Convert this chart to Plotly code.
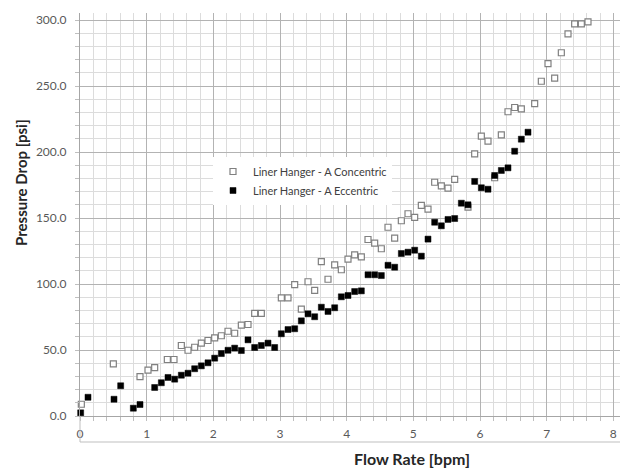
import plotly.graph_objects as go

# ---- data ----
conc_x = [0.02, 0.50, 0.90, 1.02, 1.12, 1.31, 1.41, 1.52, 1.62, 1.72, 1.82, 1.92, 2.02, 2.12,
          2.22, 2.32, 2.42, 2.52, 2.62, 2.72, 3.02, 3.12, 3.22, 3.32, 3.42, 3.52, 3.62, 3.72,
          3.82, 3.92, 4.02, 4.12, 4.22, 4.32, 4.42, 4.52, 4.62, 4.72, 4.82, 4.92, 5.02, 5.12,
          5.22, 5.32, 5.42, 5.52, 5.62, 5.82, 5.92, 6.02, 6.12, 6.22, 6.32, 6.42, 6.52, 6.62,
          6.82, 6.92, 7.02, 7.12, 7.22, 7.32, 7.42, 7.52, 7.62]
conc_y = [8.9, 39.5, 29.9, 34.7, 36.7, 42.8, 42.8, 53.4, 49.8, 52.1, 55.2, 57.2, 59.2, 60.8,
          64.2, 62.7, 68.8, 69.3, 77.7, 77.7, 89.5, 89.5, 99.6, 80.9, 101.7, 95.1, 117.0, 103.6,
          114.5, 110.8, 118.8, 122.1, 120.6, 133.7, 130.9, 126.7, 143.0, 134.7, 147.9, 153.2, 150.4, 159.5,
          156.7, 177.1, 174.4, 172.6, 179.2, 158.2, 198.6, 212.0, 208.2, 180.5, 213.0, 230.5, 233.7, 232.7,
          236.7, 253.6, 267.0, 255.9, 275.2, 289.5, 297.1, 297.1, 298.6]

ecc_x = [0.01, 0.12, 0.51, 0.61, 0.80, 0.90, 1.12, 1.22, 1.32, 1.42, 1.52, 1.62, 1.72, 1.82,
         1.92, 2.02, 2.12, 2.22, 2.32, 2.42, 2.52, 2.62, 2.72, 2.82, 2.92, 3.02, 3.12, 3.22,
         3.32, 3.42, 3.52, 3.62, 3.72, 3.82, 3.92, 4.02, 4.12, 4.22, 4.32, 4.42, 4.52, 4.62,
         4.72, 4.82, 4.92, 5.02, 5.12, 5.22, 5.32, 5.42, 5.52, 5.62, 5.72, 5.82, 5.92, 6.02,
         6.12, 6.22, 6.32, 6.42, 6.52, 6.62, 6.72]
ecc_y = [2.4, 14.2, 12.7, 22.9, 5.9, 8.7, 21.6, 25.2, 29.2, 27.9, 30.9, 32.4, 35.8, 38.0,
         40.3, 43.8, 47.3, 49.8, 51.4, 49.6, 57.7, 51.9, 53.4, 55.2, 51.9, 62.3, 65.5, 66.1,
         72.1, 77.4, 75.2, 82.4, 79.2, 82.0, 90.3, 91.3, 94.3, 94.8, 107.0, 107.0, 106.4, 114.2,
         112.7, 123.1, 124.1, 125.6, 121.1, 134.0, 146.8, 144.1, 148.9, 149.6, 161.2, 160.0, 177.7, 172.9,
         171.8, 182.2, 186.0, 188.0, 200.6, 209.7, 215.0]

series_names = ["Liner Hanger - A Concentric", "Liner Hanger - A Eccentric"]
x_ticks = [0, 1, 2, 3, 4, 5, 6, 7, 8]
y_ticks = [0, 50, 100, 150, 200, 250, 300]
x_title = "Flow Rate [bpm]"
y_title = "Pressure Drop [psi]"

FONT = "Lato, 'Open Sans', sans-serif"

W, H = 629, 476
ML, MR, MT, MB = 80, 9, 13, 60
PW, PH = W - ML - MR, H - MT - MB
BOTTOM = H - MB


def px_x(p):
    return (p - ML) / PW


def px_y(p):
    return (BOTTOM - p) / PH


fig = go.Figure()
fig.add_trace(go.Scatter(
    x=conc_x, y=conc_y, mode="markers", name=series_names[0], cliponaxis=False,
    marker=dict(symbol="square", size=6, color="white",
                line=dict(color="#808080", width=1.2)),
))
fig.add_trace(go.Scatter(
    x=ecc_x, y=ecc_y, mode="markers", name=series_names[1], cliponaxis=False,
    marker=dict(symbol="square", size=6, color="black",
                line=dict(color="black", width=0.5)),
))

fig.update_layout(
    width=W, height=H,
    margin=dict(l=ML, r=MR, t=MT, b=MB),
    paper_bgcolor="white", plot_bgcolor="white",
    font=dict(family=FONT, size=12, color="#595959"),
    showlegend=True,
    legend=dict(x=px_x(213), y=px_y(157), xanchor="left", yanchor="top",
                bgcolor="white", borderwidth=0,
                font=dict(family=FONT, size=11, color="#404040"),
                itemwidth=30, tracegroupgap=0),
    annotations=[
        dict(text=x_title, xref="paper", yref="paper",
             x=px_x(412), y=px_y(458), xanchor="center", yanchor="middle",
             showarrow=False, font=dict(family=FONT, size=16, color="#262626", weight="bold")),
        dict(text=y_title, xref="paper", yref="paper", textangle=-90,
             x=px_x(21), y=px_y(183), xanchor="center", yanchor="middle",
             showarrow=False, font=dict(family=FONT, size=15, color="#262626", weight="bold")),
    ],
    shapes=[
        dict(type="line", xref="paper", yref="paper", x0=0, x1=1,
             y0=px_y(442), y1=px_y(442),
             line=dict(color="#bfbfbf", width=1)),
        dict(type="line", xref="paper", yref="paper", x0=0, x1=0,
             y0=px_y(442), y1=0, line=dict(color="#bfbfbf", width=1)),
    ],
)

fig.update_xaxes(
    range=[0, 8.1], tickvals=x_ticks, ticktext=[str(v) for v in x_ticks],
    showgrid=True, gridcolor="#b3b3b3", gridwidth=1,
    showline=True, linecolor="#a6a6a6", linewidth=1,
    ticks="outside", ticklen=4, tickcolor="#bfbfbf",
    ticklabelstandoff=3,
    minor=dict(dtick=0.2, showgrid=True, gridcolor="#dcdcdc", gridwidth=1,
               ticks="outside", ticklen=4, tickcolor="#bfbfbf"),
    zeroline=False, tickfont=dict(family=FONT, size=12, color="#595959"),
)
fig.update_yaxes(
    range=[0, 305.3], tickvals=y_ticks, ticktext=[f"{v:.1f}" for v in y_ticks],
    showgrid=True, gridcolor="#b3b3b3", gridwidth=1,
    showline=True, linecolor="#a6a6a6", linewidth=1,
    ticks="outside", ticklen=4, tickcolor="#bfbfbf",
    minor=dict(dtick=10, showgrid=True, gridcolor="#dcdcdc", gridwidth=1,
               ticks="outside", ticklen=4, tickcolor="#bfbfbf"),
    zeroline=False, tickfont=dict(family=FONT, size=12, color="#595959"),
    ticklabelstandoff=6,
)

fig.write_html("out.html")
